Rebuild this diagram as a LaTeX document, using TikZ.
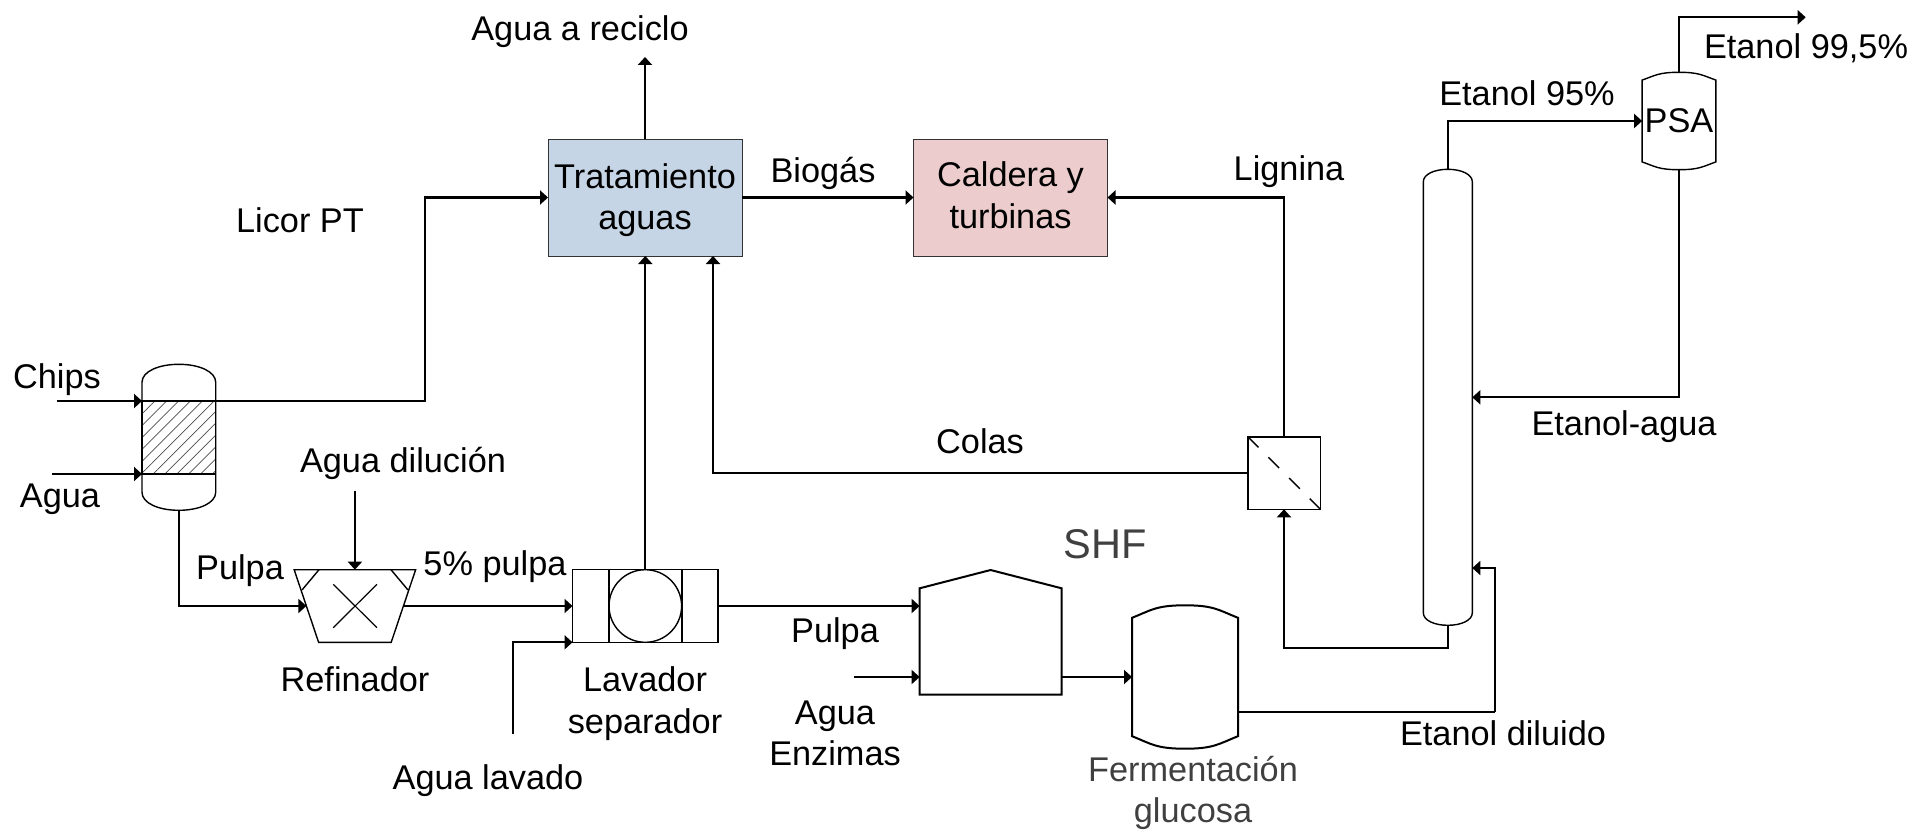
\documentclass[tikz,border=0pt]{standalone}
\usepackage{fontspec}
\setmainfont{Liberation Sans}
\usetikzlibrary{arrows.meta,calc,patterns.meta,shapes.geometric}

\definecolor{tankblue}{HTML}{C6D5E6}
\definecolor{tankpink}{HTML}{ECCCCC}
\definecolor{softtext}{HTML}{404040}

\tikzset{
    unit/.style={inner sep=0pt,outer sep=0pt},
    outline/.style={draw,line width=.7pt},
    boldline/.style={draw,line width=1pt},
    tank/.style={unit,draw=black!80,line width=.45pt,font=\fontsize{17.15}{20.75}\selectfont,align=center,minimum width=97pt,minimum height=58.5pt},
    tag/.style={font=\fontsize{17.15}{20.75}\selectfont,align=center,inner sep=0pt},
    pipe/.style={line width=1.1pt},
    flow/.style={pipe,-{Triangle[length=4pt,width=7pt]}},
    bed/.style={outline,pattern={Lines[angle=45,distance=4.2pt,line width=.35pt]},pattern color=black!70}
}

\newcommand{\Vessel}[7][outline]{%
    \node[unit,minimum width=#5*.5pt,minimum height=#6*.5pt] (#2) at (#3,#4) {};
    \draw[#1] ($(#2.north west)+(0,#7)$)
        .. controls ($(#2.north west)+(\VesselBow*#5,.4*#7)$) and ($(#2.north)+(-.275*#5,0)$) .. (#2.north)
        .. controls ($(#2.north)+(.275*#5,0)$) and ($(#2.north east)+(-\VesselBow*#5,.4*#7)$) .. ($(#2.north east)+(0,#7)$)
        -- ($(#2.south east)+(0,-#7)$)
        .. controls ($(#2.south east)+(-\VesselBow*#5,-.4*#7)$) and ($(#2.south)+(.275*#5,0)$) .. (#2.south)
        .. controls ($(#2.south)+(-.275*#5,0)$) and ($(#2.south west)+(\VesselBow*#5,-.4*#7)$) .. ($(#2.south west)+(0,-#7)$)
        -- cycle;
}
\newcommand{\VesselBow}{0}

\begin{document}
\begin{tikzpicture}[x=.5pt,y=-.5pt]
    \useasboundingbox (0,0) rectangle (1914,829);

    \Vessel{reactor}{178.85}{437.3}{73.7}{146}{18}
    \Vessel{column}{1447.8}{397.3}{49}{456}{12.5}
    \renewcommand{\VesselBow}{.18}
    \Vessel[boldline]{ferment}{1185}{677}{106}{143.4}{12.5}
    \Vessel{psa}{1679}{121}{73.8}{97.4}{7.8}

    \node[tank,fill=tankblue] (water) at (645,197.5) {\rule{0pt}{15.3pt}Tratamiento\\aguas};
    \node[tank,fill=tankpink] (boiler) at (1010.5,197.5) {Caldera y\\turbinas\rule[-2.4pt]{0pt}{0pt}};
    \node[tag] (psatext) at (psa) {PSA};

    \node[unit,outline,inner sep=1pt,shape=trapezium,shape border rotate=180,
        trapezium angle=71.4,minimum width=60.4pt,minimum height=36.3pt] (refiner) at (354.9,606) {};
    \node[unit,outline,minimum width=72.8pt,minimum height=36.3pt] (washer) at (645.3,606) {};
    \node[unit,outline,minimum width=36.5pt,minimum height=36.3pt] (drum) at (washer) {};
    \node[unit,outline,shape=circle,minimum size=36.3pt] (wheel) at (washer) {};
    \node[unit,minimum width=71pt,minimum height=62.35pt] (shf) at (990.6,632.35) {};
    \node[unit,draw,line width=.8pt,minimum width=36.3pt,minimum height=36.3pt] (filter) at (1284,473) {};

    \draw[bed] (reactor.west |- 0,401) rectangle (reactor.east |- 0,474);
    \draw[boldline] (shf.south west) -- ++(0,-106.4) -- (shf.north) -- ++(71,18.3) -- (shf.south east) -- cycle;
    \draw[line width=.7pt] (319,569.7) -- (302,590);
    \draw[line width=.7pt] (391,569.7) -- (408,590);
    \draw[line width=.6pt] (333.2,584.3) -- (377,627.7);
    \draw[line width=.6pt] (377,584.3) -- (333.2,627.7);
    \draw[line width=.7pt,dash pattern=on 7.6pt off 7pt] (filter.north west) -- (filter.south east);

    \coordinate (chipsin) at (56.6,401);
    \coordinate (aguain) at (52,474);
    \coordinate (licorx) at (424.7,300);
    \coordinate (dilin) at (354.9,490.7);
    \coordinate (lavin) at (513,733.7);
    \coordinate (enzin) at (853.7,677);
    \coordinate (reciclo) at (645,57);
    \coordinate (colasup) at (713,256);
    \coordinate (colbase) at (1447.8,648);
    \coordinate (dilout) at (1495,712);
    \coordinate (colin) at (1472.3,568);
    \coordinate (etout) at (1805.7,17.3);

    \draw[flow] (chipsin) -- (chipsin -| reactor.west);
    \draw[flow] (aguain) -- (aguain -| reactor.west);
    \draw[flow] (chipsin -| reactor.east) -| (licorx) |- (water.west);
    \draw[flow] (reactor.south) |- (refiner.west);
    \draw[flow] (dilin) -- (refiner.north);
    \draw[flow] (refiner.east) -- (washer.west);
    \draw[flow] (lavin) |- (washer.south west);
    \draw[flow] (washer.north) -- (washer.north |- water.south);
    \draw[flow] (water.north) -- (reciclo);
    \draw[flow] (water.east) -- (boiler.west);
    \draw[flow] (washer.east) -- (washer.east -| shf.west);
    \draw[flow] (enzin) -- (enzin -| shf.west);
    \draw[flow] (enzin -| shf.east) -- (ferment.west);
    \draw[pipe] (ferment.east |- dilout) -- (dilout);
    \draw[flow] (dilout) |- (colin);
    \draw[flow] (column.south) -- (colbase) -| (filter.south);
    \draw[flow] (filter.west) -| (colasup);
    \draw[flow] (filter.north) |- (boiler.east);
    \draw[flow] (column.north) |- (psa.west);
    \draw[flow] (psa.north) |- (etout);
    \draw[flow] (psa.south) |- (column.east);

    \node[tag] (lreciclo) at (580,32) {Agua a reciclo};
    \node[tag] (lbiogas) at (823,173) {Biogás};
    \node[tag] (llignina) at (1289,172) {Lignina};
    \node[tag] (llicor) at (300,220) {Licor PT};
    \node[tag] (lchips) at (57,379.5) {Chips};
    \node[tag] (lagua) at (60,499.5) {Agua};
    \node[tag] (ldilucion) at (403,463) {Agua dilución};
    \node[tag] (lpulpa) at (240,570.5) {Pulpa};
    \node[tag] (lcinco) at (495,567) {5\% pulpa};
    \node[tag] (lrefinador) at (355,679) {Refinador};
    \node[tag] (llavador) at (645,703.5) {Lavador\\separador};
    \node[tag] (lpulpados) at (835,634) {Pulpa};
    \node[tag] (lenzimas) at (835,733.5) {Agua\\Enzimas};
    \node[tag] (llavado) at (488,780.5) {Agua lavado};
    \node[tag,font=\fontsize{20.75}{25}\selectfont,text=softtext] (lshf) at (1105,544.5) {SHF};
    \node[tag,text=softtext] (lferment) at (1193,793) {Fermentación\\glucosa};
    \node[tag] (ldiluido) at (1503,733) {Etanol diluido};
    \node[tag] (lcolas) at (980,441) {Colas};
    \node[tag] (letagua) at (1624,427) {Etanol-agua};
    \node[tag] (leta) at (1527,93) {Etanol 95\%};
    \node[tag] (letb) at (1806,48.5) {Etanol 99,5\%};
\end{tikzpicture}
\end{document}
